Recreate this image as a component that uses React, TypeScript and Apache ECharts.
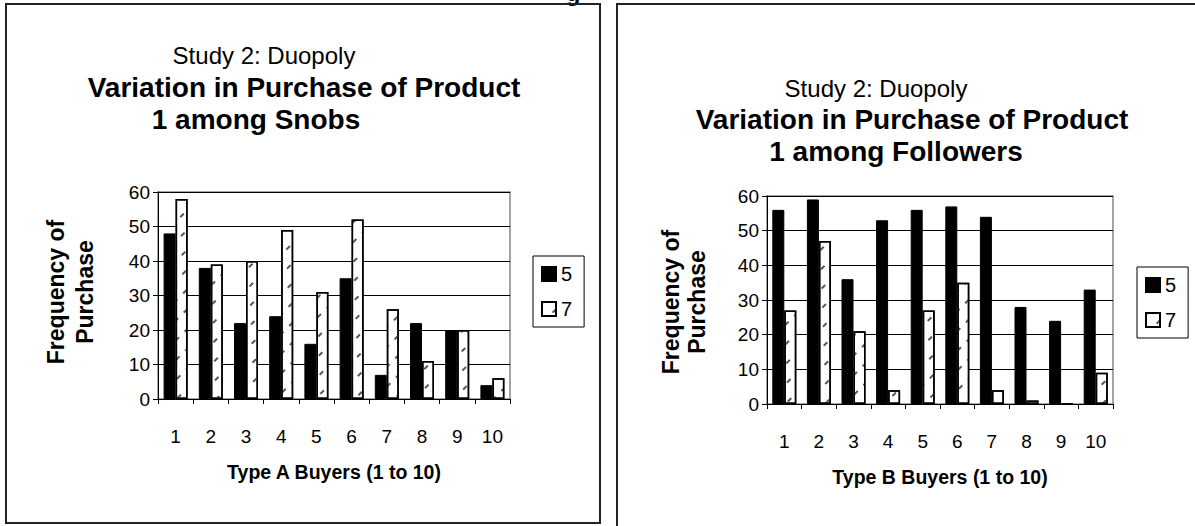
import React, { useEffect, useRef } from 'react';
import * as echarts from 'echarts';

const categories = ['1', '2', '3', '4', '5', '6', '7', '8', '9', '10'];
const seriesNames = ['5', '7'];
const snobs5 = [48, 38, 22, 24, 16, 35, 7, 22, 20, 4];
const snobs7 = [58, 39, 40, 49, 31, 52, 26, 11, 20, 6];
const followers5 = [56, 59, 36, 53, 56, 57, 54, 28, 24, 33];
const followers7 = [27, 47, 21, 4, 27, 35, 4, 1, 0, 9];
const yMin = 0;
const yMax = 60;
const yInterval = 10;

const FONT = '"Liberation Sans", Arial, sans-serif';

const hatch = {
  symbol: 'rect',
  symbolSize: 1,
  color: '#555',
  dashArrayX: [5, 8],
  dashArrayY: [2, 12],
  rotation: -Math.PI / 4,
};

function xAxisCfg(gridIndex: number, name: string) {
  return {
    type: 'category',
    gridIndex,
    data: categories,
    axisLine: { show: true, lineStyle: { color: '#000', width: 1 } },
    axisTick: { show: true, length: 5, lineStyle: { color: '#000' } },
    axisLabel: { margin: 28, fontSize: 19, color: '#000', fontFamily: FONT },
    name,
    nameLocation: 'middle',
    nameGap: 63,
    nameTextStyle: { fontWeight: 'bold', fontSize: 19.5, color: '#000', fontFamily: FONT },
  };
}

function yAxisCfg(gridIndex: number) {
  return {
    type: 'value',
    gridIndex,
    min: yMin,
    max: yMax,
    interval: yInterval,
    axisLine: { show: true, lineStyle: { color: '#000', width: 1 } },
    axisTick: { show: true, length: 5, lineStyle: { color: '#000' } },
    axisLabel: { margin: 8, fontSize: 19, color: '#000', fontFamily: FONT },
    splitLine: { show: true, lineStyle: { color: '#000', width: 1 } },
  };
}

function barSeries(name: string, idx: number, data: number[], hatched: boolean) {
  return {
    type: 'bar',
    name,
    xAxisIndex: idx,
    yAxisIndex: idx,
    data,
    barWidth: 12,
    barGap: '0%',
    itemStyle: hatched
      ? { color: '#fff', borderColor: '#000', borderWidth: 1.5, decal: hatch }
      : { color: '#000', borderColor: '#000', borderWidth: 1 },
  };
}

function legendCfg(left: number, top: number) {
  return {
    orient: 'vertical',
    left,
    top,
    data: seriesNames,
    icon: 'rect',
    itemWidth: 14,
    itemHeight: 14,
    itemGap: 15,
    padding: [8, 12, 8, 8],
    borderColor: '#000',
    borderWidth: 1,
    selectedMode: false,
    itemStyle: { borderWidth: 2 },
    textStyle: { fontSize: 20, lineHeight: 18, color: '#000', fontFamily: FONT },
  };
}

function txt(text: string, x: number, y: number, size: number, bold: boolean, rotate = 0, lh = size + 6) {
  return {
    type: 'text',
    x,
    y,
    rotation: rotate,
    style: {
      text,
      fontSize: size,
      fontWeight: bold ? 'bold' : 'normal',
      fontFamily: FONT,
      fill: '#000',
      align: 'center',
      verticalAlign: 'middle',
      lineHeight: lh,
    },
  };
}

const option = {
  animation: false,
  backgroundColor: '#fff',
  grid: [
    { left: 158, top: 192, width: 352, height: 207, show: true, borderColor: '#888', borderWidth: 1.5, containLabel: false },
    { left: 767, top: 196, width: 346, height: 208, show: true, borderColor: '#888', borderWidth: 1.5, containLabel: false },
  ],
  xAxis: [xAxisCfg(0, 'Type A Buyers (1 to 10)'), xAxisCfg(1, 'Type B Buyers (1 to 10)')],
  yAxis: [yAxisCfg(0), yAxisCfg(1)],
  legend: [legendCfg(533, 256), legendCfg(1137, 267)],
  series: [
    barSeries(seriesNames[0], 0, snobs5, false),
    barSeries(seriesNames[1], 0, snobs7, true),
    barSeries(seriesNames[0], 1, followers5, false),
    barSeries(seriesNames[1], 1, followers7, true),
  ],
  graphic: [
    { type: 'rect', shape: { x: 6, y: 4, width: 594, height: 519 }, style: { fill: 'none', stroke: '#222', lineWidth: 2 }, z: 100 },
    { type: 'rect', shape: { x: 617, y: 4, width: 640, height: 600 }, style: { fill: 'none', stroke: '#222', lineWidth: 2 }, z: 100 },
    { type: 'text', x: 573, y: 4, style: { text: 'g', fontSize: 24, fontWeight: 'bold', fontFamily: FONT, fill: '#000', align: 'center', verticalAlign: 'bottom' }, z: 99 },
    txt('Study 2: Duopoly', 264, 55, 24, false),
    txt('Variation in Purchase of Product', 304, 87, 28, true),
    txt('1 among Snobs', 256, 119, 28, true),
    txt('Study 2: Duopoly', 876, 88, 24, false),
    txt('Variation in Purchase of Product', 912, 119, 28, true),
    txt('1 among Followers', 896, 151, 28, true),
    txt('Frequency of\nPurchase', 70, 292, 23, true, Math.PI / 2, 29),
    txt('Frequency of\nPurchase', 684, 302, 23, true, Math.PI / 2, 26),
  ],
};

export default function App() {
  const ref = useRef<HTMLDivElement>(null);
  useEffect(() => {
    const chart = echarts.init(ref.current as HTMLDivElement, null, { renderer: 'svg' });
    chart.setOption(option as any);
    return () => chart.dispose();
  }, []);
  return (
    <div
      ref={ref}
      style={{ position: 'absolute', left: 0, top: 0, width: 1195, height: 526, background: '#fff' }}
    />
  );
}
